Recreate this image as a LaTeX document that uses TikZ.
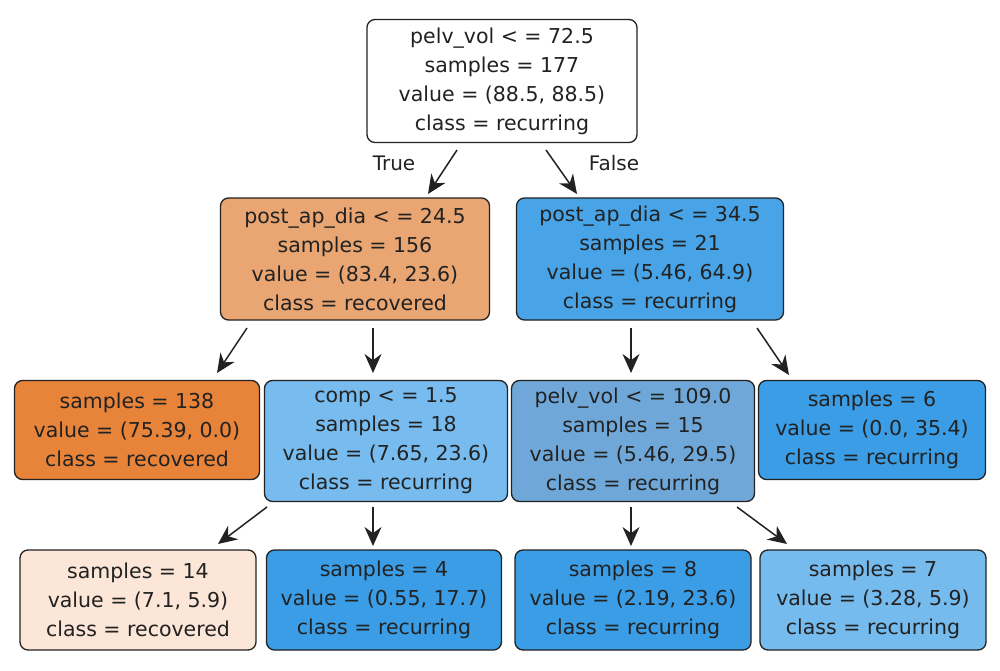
\documentclass[tikz,border=0pt]{standalone}
\usepackage{fontspec}
\setmainfont{DejaVu Sans}
\usetikzlibrary{arrows.meta}
\definecolor{cA}{HTML}{E9A572}
\definecolor{cB}{HTML}{48A4E7}
\definecolor{cC}{HTML}{E8833A}
\definecolor{cD}{HTML}{78BBEF}
\definecolor{cE}{HTML}{6FA8D8}
\definecolor{cF}{HTML}{3A9DE5}
\definecolor{cG}{HTML}{FBE6D7}
\definecolor{cH}{HTML}{75BBEE}
\definecolor{ln}{HTML}{222222}
\begin{document}
\begin{tikzpicture}[x=1pt,y=-1pt,
 box/.style={draw=ln,line width=1.3pt,rounded corners=8pt,align=center,font=\fontsize{20.5}{29}\selectfont,inner sep=0pt,text=ln},
 arr/.style={draw=ln,line width=1.5pt,-{Stealth[length=19pt,width=17pt]}},
 lab/.style={font=\fontsize{20}{27}\selectfont,text=ln}]
\useasboundingbox (0,0) rectangle (1000,671);
\node[box,fill=white,minimum width=270pt,minimum height=123pt] (r) at (502,81) {pelv\_vol < = 72.5\\samples = 177\\value = (88.5, 88.5)\\class = recurring};
\node[box,fill=cA,minimum width=269pt,minimum height=122pt] (a) at (355,259) {post\_ap\_dia < = 24.5\\samples = 156\\value = (83.4, 23.6)\\class = recovered};
\node[box,fill=cB,minimum width=267pt,minimum height=122pt] (b) at (650,259) {post\_ap\_dia < = 34.5\\samples = 21\\value = (5.46, 64.9)\\class = recurring};
\node[box,fill=cC,minimum width=245pt,minimum height=99pt] (c) at (137,430) {samples = 138\\value = (75.39, 0.0)\\class = recovered};
\node[box,fill=cD,minimum width=243pt,minimum height=121pt] (d) at (386,441) {comp < = 1.5\\samples = 18\\value = (7.65, 23.6)\\class = recurring};
\node[box,fill=cE,minimum width=243pt,minimum height=121pt] (e) at (633,441) {pelv\_vol < = 109.0\\samples = 15\\value = (5.46, 29.5)\\class = recurring};
\node[box,fill=cF,minimum width=227pt,minimum height=99pt] (f) at (872,430) {samples = 6\\value = (0.0, 35.4)\\class = recurring};
\node[box,fill=cG,minimum width=236pt,minimum height=100pt] (g) at (138,600) {samples = 14\\value = (7.1, 5.9)\\class = recovered};
\node[box,fill=cF,minimum width=235pt,minimum height=100pt] (h) at (384,600) {samples = 4\\value = (0.55, 17.7)\\class = recurring};
\node[box,fill=cF,minimum width=236pt,minimum height=100pt] (i) at (633,600) {samples = 8\\value = (2.19, 23.6)\\class = recurring};
\node[box,fill=cH,minimum width=226pt,minimum height=100pt] (j) at (873,600) {samples = 7\\value = (3.28, 5.9)\\class = recurring};
\coordinate (r1) at (457,150); \coordinate (r2) at (546,150);
\coordinate (a1) at (247,328); \coordinate (a2) at (373,328);
\coordinate (b1) at (631,328); \coordinate (b2) at (757,328);
\coordinate (d1) at (267,507); \coordinate (d2) at (373,507);
\coordinate (e1) at (631,507); \coordinate (e2) at (737,507);
\coordinate (ta) at (428,194); \coordinate (tb) at (577,194);
\coordinate (tc) at (217,373); \coordinate (td) at (373,373);
\coordinate (te) at (631,373); \coordinate (tf) at (789,375);
\coordinate (tg) at (218,544); \coordinate (th) at (373,546);
\coordinate (ti) at (631,546); \coordinate (tj) at (787,544);
\draw[arr] (r1) -- (ta); \draw[arr] (r2) -- (tb);
\draw[arr] (a1) -- (tc); \draw[arr] (a2) -- (td);
\draw[arr] (b1) -- (te); \draw[arr] (b2) -- (tf);
\draw[arr] (d1) -- (tg); \draw[arr] (d2) -- (th);
\draw[arr] (e1) -- (ti); \draw[arr] (e2) -- (tj);
\node[lab] (tt) at (394,163) {True};
\node[lab] (ff) at (614,163) {False};
\end{tikzpicture}
\end{document}
